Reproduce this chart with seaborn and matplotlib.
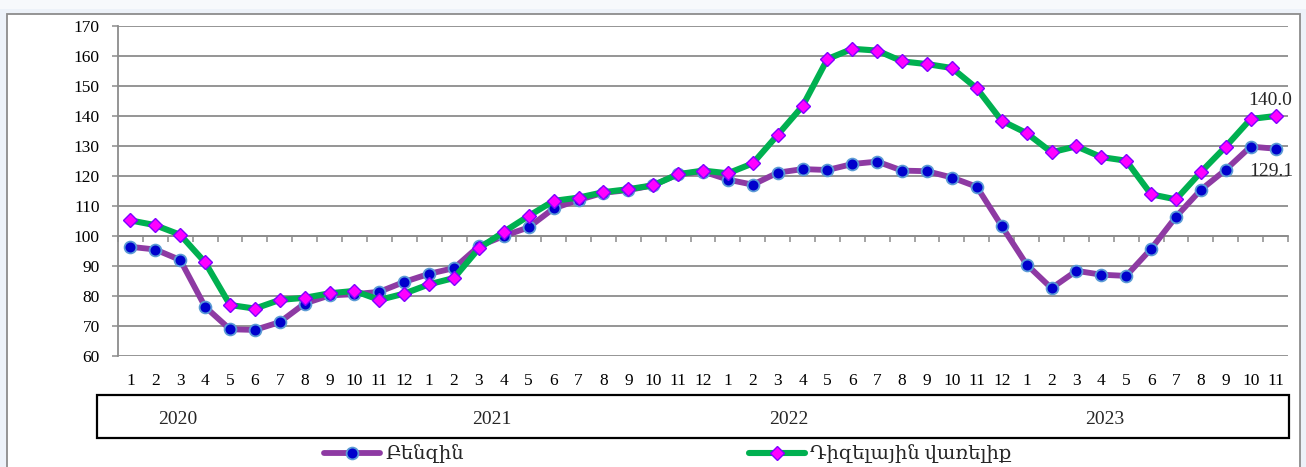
import numpy as np
import pandas as pd
import matplotlib
matplotlib.use("Agg")
import matplotlib.pyplot as plt
import matplotlib.transforms as mtransforms
from matplotlib.patches import Rectangle
import seaborn as sns

# ---------------- data ----------------
years = ["2020", "2021", "2022", "2023"]
months_per_year = [12, 12, 12, 11]
month_labels = [str(m) for n in months_per_year for m in range(1, n + 1)]

series_names = ["Բենզին", "Դիզելային վառելիք"]

benzin = [96.4, 95.5, 92.0, 76.4, 68.9, 68.7, 71.3, 77.5, 80.2, 80.6, 81.4, 84.7,
          87.4, 89.3, 96.6, 100.0, 102.9, 109.2, 112.0, 114.4, 115.3, 116.9, 120.6, 121.5,
          118.8, 117.1, 121.1, 122.3, 122.0, 124.0, 124.8, 121.8, 121.6, 119.5, 116.4, 103.3,
          90.5, 82.6, 88.4, 87.1, 86.7, 95.7, 106.4, 115.4, 122.1, 129.8, 129.1]

diesel = [105.2, 103.6, 100.4, 91.2, 77.0, 75.8, 78.7, 79.4, 80.9, 81.7, 78.7, 80.8,
          83.9, 86.0, 95.9, 101.4, 106.7, 111.7, 112.8, 114.6, 115.6, 116.9, 120.6, 121.8,
          120.9, 124.2, 133.7, 143.3, 159.0, 162.4, 161.8, 158.2, 157.3, 156.0, 149.2, 138.4,
          134.3, 127.9, 129.9, 126.3, 125.1, 113.9, 112.2, 121.3, 129.8, 139.0, 140.0]

y_ticks = [60, 70, 80, 90, 100, 110, 120, 130, 140, 150, 160, 170]
axis_cross = 100

# ---------------- style ----------------
sns.set_style("white")
plt.rcParams["font.family"] = ["Liberation Serif", "DejaVu Serif", "DejaVu Sans"]

W, H = 1306, 467
fig = plt.figure(figsize=(W / 100, H / 100), dpi=100, facecolor="#edf2f9")

# soft white fade at the very top
fig.add_artist(Rectangle((0, 1 - 9 / H), 1, 9 / H, transform=fig.transFigure,
                         facecolor="white", edgecolor="none", alpha=0.6, zorder=0))

# outer chart frame
fig.add_artist(Rectangle((7 / W, -0.05), (1300 - 7) / W, 1 - 14 / H + 0.05,
                         transform=fig.transFigure, facecolor="white",
                         edgecolor="#8c8c8c", lw=1.3, zorder=0))

left, right, top, bottom = 118, 1288, 26, 356
ax = fig.add_axes([left / W, 1 - bottom / H, (right - left) / W, (bottom - top) / H])
ax.set_facecolor("none")

x = np.arange(len(benzin))
df = pd.DataFrame({"x": x, "benzin": benzin, "diesel": diesel})

purple = "#8E3AA3"
green = "#00B050"

sns.lineplot(data=df, x="x", y="benzin", ax=ax, color=purple, lw=4.2,
             marker="o", ms=8.5, mfc="#0000CC", mec="#5B9BD5", mew=1.3,
             label=series_names[0], legend=False, zorder=3)
sns.lineplot(data=df, x="x", y="diesel", ax=ax, color=green, lw=4.4,
             marker="D", ms=6.8, mfc="#FF00FF", mec="#7F00FF", mew=1.0,
             label=series_names[1], legend=False, zorder=4)

ax.set_xlim(-0.5, len(benzin) - 0.5)
ax.set_ylim(y_ticks[0], y_ticks[-1])
ax.set_yticks(y_ticks)
ax.set_xticks(x)
ax.set_xticklabels(month_labels)
ax.set_xlabel("")
ax.set_ylabel("")

grid_c = "#8c8c8c"
ax.grid(axis="y", color=grid_c, lw=1.3)
ax.grid(axis="x", visible=False)
for s in ["top", "right", "bottom"]:
    ax.spines[s].set_visible(False)
ax.spines["left"].set_color(grid_c)
ax.spines["left"].set_linewidth(1.3)
ax.tick_params(axis="y", left=True, length=4.5, width=1.1, color=grid_c,
               pad=8.5, labelsize=12.5, labelcolor="black")
ax.tick_params(axis="x", bottom=False, length=0, pad=12, labelsize=12.5,
               labelcolor="black")

# horizontal category axis crossing at 100
secax = ax.secondary_xaxis((axis_cross - y_ticks[0]) / (y_ticks[-1] - y_ticks[0]))
secax.set_xticks(np.arange(-0.5, len(benzin), 1.0))
secax.tick_params(axis="x", length=4, width=1.1, color=grid_c, direction="out",
                  labelbottom=False, labeltop=False)
secax.spines["bottom"].set_color(grid_c)
secax.spines["bottom"].set_linewidth(1.3)

# end labels
ax.annotate(f"{diesel[-1]:.1f}", (x[-1], diesel[-1]), xytext=(-4, 11.5),
            textcoords="offset points", ha="center", va="center", fontsize=14)
ax.annotate(f"{benzin[-1]:.1f}", (x[-1], benzin[-1]), xytext=(-3, -16.5),
            textcoords="offset points", ha="center", va="center", fontsize=14)

# year box
fig.add_artist(Rectangle((97 / W, 1 - 438 / H), (1289 - 97) / W, (438 - 395) / H,
                         transform=fig.transFigure, facecolor="none",
                         edgecolor="black", lw=1.6, zorder=5))
year_pos = [1.9, 14.5, 26.45, 39.15]
trans = mtransforms.blended_transform_factory(ax.transData, fig.transFigure)
for yr, xp in zip(years, year_pos):
    ax.text(xp, 1 - 419 / H, yr, transform=trans, ha="center", va="center",
            fontsize=14, clip_on=False)

# legends
h1, h2 = ax.lines[0], ax.lines[1]
leg1 = fig.legend([h1], [series_names[0]], loc="center left",
                  bbox_to_anchor=(324 / W, 1 - 454 / H), frameon=False,
                  fontsize=14, handlelength=2.9, handletextpad=0.25,
                  borderaxespad=0, borderpad=0)
leg2 = fig.legend([h2], [series_names[1]], loc="center left",
                  bbox_to_anchor=(749 / W, 1 - 454 / H), frameon=False,
                  fontsize=14, handlelength=2.9, handletextpad=0.25,
                  borderaxespad=0, borderpad=0)

fig.savefig("out.png", dpi=100, facecolor=fig.get_facecolor())
